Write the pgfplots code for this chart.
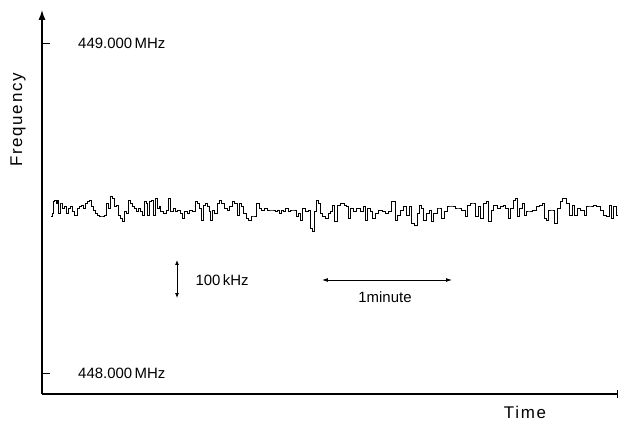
\documentclass[border=0pt]{standalone}
\usepackage{fontspec}
\setmainfont{Liberation Sans}
\usepackage{pgfplots}
\pgfplotsset{compat=1.18}
\usetikzlibrary{arrows.meta}

% trace: x = time (1 minute = 130 units), y = frequency (1 MHz = 330 units, 448.000 MHz at 21)
\pgfplotstableread{
x y
9 178
10 181
11 193
12 194
14 191
15 194
16 181
18 191
19 191
20 186
22 188
24 181
26 186
28 188
30 183
32 179
35 186
37 188
39 189
41 186
43 191
45 193
47 194
49 188
51 184
53 181
55 179
57 178
60 178
62 179
64 191
66 186
68 198
70 196
72 188
74 189
76 179
78 176
80 173
82 183
84 181
86 194
88 191
90 188
92 186
94 183
96 186
98 183
100 179
102 193
104 191
105 179
107 193
109 194
111 179
113 196
115 186
117 188
118 183
121 181
124 184
126 196
128 183
131 186
133 183
135 184
138 181
140 176
142 183
145 181
147 184
150 183
153 193
155 191
157 186
159 174
161 189
163 191
165 188
167 183
168 174
170 184
172 181
175 191
177 194
179 191
182 186
185 184
187 188
190 193
192 191
195 179
197 191
199 188
201 181
204 176
206 174
209 178
211 178
214 191
217 186
219 184
222 186
225 184
230 184
233 183
235 184
237 181
239 184
241 183
243 186
246 183
248 184
251 184
254 178
256 181
258 174
260 186
263 183
266 184
268 166
270 163
272 183
274 194
276 191
278 181
280 178
283 176
286 181
288 183
290 189
292 173
295 189
298 191
302 189
304 188
306 176
308 186
311 183
314 186
318 183
321 188
323 174
325 186
328 183
330 176
333 181
336 184
340 183
343 181
346 183
349 193
353 174
355 179
358 184
361 188
364 179
367 188
369 171
372 169
375 181
377 189
379 186
381 174
384 181
387 184
389 173
391 181
395 186
397 186
399 176
402 183
405 188
409 188
413 186
416 186
419 184
423 178
425 189
428 191
431 191
433 178
436 188
438 176
441 191
444 193
446 173
449 184
451 189
455 186
458 188
461 189
463 186
466 176
468 186
471 194
473 196
475 178
477 186
480 191
482 179
484 183
487 183
490 184
494 188
497 189
500 191
502 176
504 174
506 184
510 184
512 171
515 186
518 193
520 196
524 191
527 179
530 189
532 179
535 186
538 184
542 179
544 188
548 188
551 189
554 188
558 184
561 179
564 178
567 189
569 176
571 188
574 179
576 179
}\trace

\begin{document}
\begin{tikzpicture}
\begin{axis}[
    scale only axis,
    width=576bp, height=384bp,
    xmin=0, xmax=576,
    ymin=0, ymax=384,
    axis x line=bottom,
    axis y line=left,
    x axis line style={-|, line width=1.2pt},
    y axis line style={-{Latex[length=10pt,width=7pt]}, line width=1.2pt},
    xtick=\empty,
    ytick={21,351},
    yticklabels={448.000\,MHz, 449.000\,MHz},
    tick align=inside,
    major tick length=8bp,
    tick style={line width=0.8pt, black},
    yticklabel style={anchor=west, inner sep=0pt, xshift=36bp},
    font=\fontsize{15}{18}\selectfont,
    clip=false,
]
\addplot[const plot, black, line width=0.8pt] table[x=x, y=y] {\trace};

% scale bars
\draw[{Latex[length=5pt,width=4pt]}-{Latex[length=5pt,width=4pt]}, line width=0.8pt]
    (axis cs:135,96) -- (axis cs:135,134);
\node[anchor=west] at (axis cs:150,114) {100\,kHz};
\draw[{Latex[length=6pt,width=4pt]}-{Latex[length=6pt,width=4pt]}, line width=0.8pt]
    (axis cs:280,114) -- (axis cs:410,114);
\node at (axis cs:343,97) {1minute};

\node[rotate=90] at (axis cs:-24,274) {\fontsize{17}{20}\selectfont\addfontfeatures{LetterSpace=10}Frequency};
\node at (axis cs:483,-18) {\fontsize{17}{20}\selectfont\addfontfeatures{LetterSpace=10}Time};

\path (axis cs:-42,-31) rectangle (axis cs:577,394);
\end{axis}
\end{tikzpicture}
\end{document}
